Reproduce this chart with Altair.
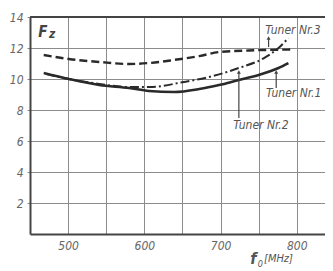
import altair as alt
import pandas as pd

# ---- data ----
tuner1_f = [468, 501, 541, 580, 606, 639, 672, 698, 724, 750, 776, 789]
tuner1_v = [10.39, 10.0, 9.61, 9.42, 9.23, 9.16, 9.35, 9.61, 9.94, 10.26, 10.71, 11.03]

tuner2_f = [471, 501, 541, 580, 606, 652, 685, 724, 757, 776, 789]
tuner2_v = [10.32, 10.0, 9.68, 9.48, 9.48, 9.81, 10.13, 10.71, 11.35, 12.0, 12.65]

tuner3_f = [468, 501, 541, 580, 606, 639, 672, 698, 737, 792]
tuner3_v = [11.55, 11.29, 11.1, 10.97, 11.03, 11.23, 11.48, 11.74, 11.84, 11.9]

x_ticks = [500, 550, 600, 650, 700, 750, 800]
y_ticks = [2, 4, 6, 8, 10, 12, 14]

label_text = ["Tuner Nr.3", "Tuner Nr.1", "Tuner Nr.2"]
label_f = [795, 796, 753]
label_v = [13.16, 9.1, 7.06]

arrow_f = [763, 773, 724]
arrow_top = [12.65, 10.45, 10.45]
arrow_bottom = [12.06, 9.42, 7.48]

FONT = "Liberation Sans Narrow, DejaVu Sans Condensed, sans-serif"
INK = "#2a2a2a"
GRID = "#8c8c8c"

x_scale = alt.Scale(domain=[450, 837], nice=False, zero=False)
y_scale = alt.Scale(domain=[0, 14], nice=False)

x_axis = alt.Axis(
    values=x_ticks, labelExpr="datum.value % 100 == 0 ? datum.label : ''",
    grid=True, gridColor=GRID, gridWidth=1, domainColor="#444444", domainWidth=2,
    tickSize=0, labelFont=FONT, labelFontSize=12, labelFontStyle="italic",
    labelColor="#666666", labelPadding=6, title=None, labelFlush=False,
    labelOverlap=False,
)
y_axis = alt.Axis(
    values=y_ticks, grid=True, gridColor=GRID, gridWidth=1, domainColor="#444444",
    domainWidth=2, tickSize=3, tickColor=GRID, labelFont=FONT, labelFontSize=12,
    labelFontStyle="italic", labelColor="#666666", labelPadding=4, title=None,
    labelFlush=False, labelOverlap=False,
)


def series(fs, vs):
    return pd.DataFrame({"f": fs, "v": vs})


def XN(field="f:Q"):
    return alt.X(field, scale=x_scale, axis=x_axis)


def YN(field="v:Q"):
    return alt.Y(field, scale=y_scale, axis=y_axis)


line1 = alt.Chart(series(tuner1_f, tuner1_v)).mark_line(
    color=INK, strokeWidth=2.6, interpolate="monotone").encode(x=XN(), y=YN())
line2 = alt.Chart(series(tuner2_f, tuner2_v)).mark_line(
    color=INK, strokeWidth=2, strokeDash=[9, 3, 2, 3], interpolate="monotone"
).encode(x=XN(), y=YN())
line3 = alt.Chart(series(tuner3_f, tuner3_v)).mark_line(
    color=INK, strokeWidth=2.4, strokeDash=[8, 4], interpolate="monotone"
).encode(x=XN(), y=YN())

top_border = alt.Chart(pd.DataFrame({"v": [14]})).mark_rule(
    color="#444444", strokeWidth=2).encode(y=YN())

arrows_df = pd.DataFrame({"f": arrow_f, "top": arrow_top, "bottom": arrow_bottom})
arrow_lines = alt.Chart(arrows_df).mark_rule(color="#444444", strokeWidth=1.2).encode(
    x=XN(), y=YN("top:Q"), y2="bottom:Q")
arrow_heads = alt.Chart(arrows_df).mark_point(
    shape="triangle-up", filled=True, color="#444444", size=16, opacity=1).encode(
    x=XN(), y=YN("top:Q"))

labels = alt.Chart(pd.DataFrame({"t": label_text, "f": label_f, "v": label_v})).mark_text(
    font=FONT, fontSize=12, fontStyle="italic", color="#555555", align="center",
    baseline="middle").encode(x=XN(), y=YN(), text="t:N")

fz_F = alt.Chart(pd.DataFrame({"t": ["F"], "f": [467], "v": [13.06]})).mark_text(
    font=FONT, fontSize=15, fontStyle="italic", fontWeight="bold", color="#444444",
    align="center", baseline="middle").encode(x=XN(), y=YN(), text="t:N")
fz_z = alt.Chart(pd.DataFrame({"t": ["z"], "f": [479], "v": [12.9]})).mark_text(
    font=FONT, fontSize=12, fontStyle="italic", fontWeight="bold", color="#444444",
    align="center", baseline="middle").encode(x=XN(), y=YN(), text="t:N")

t_f = alt.Chart(pd.DataFrame({"t": ["f"], "f": [743], "v": [-1.95]})).mark_text(
    font=FONT, fontSize=16, fontStyle="italic", fontWeight="bold", color="#555555",
    align="center", baseline="alphabetic").encode(x=XN(), y=YN(), text="t:N")
t_0 = alt.Chart(pd.DataFrame({"t": ["0"], "f": [752], "v": [-2.13]})).mark_text(
    font=FONT, fontSize=9, fontStyle="italic", color="#555555",
    align="center", baseline="alphabetic").encode(x=XN(), y=YN(), text="t:N")
t_unit = alt.Chart(pd.DataFrame({"t": ["[MHz]"], "f": [757], "v": [-1.8]})).mark_text(
    font=FONT, fontSize=11, fontStyle="italic", color="#555555",
    align="left", baseline="alphabetic").encode(x=XN(), y=YN(), text="t:N")

chart = alt.layer(
    line1, line2, line3, top_border, arrow_lines, arrow_heads, labels,
    fz_F, fz_z, t_f, t_0, t_unit,
).properties(
    width=295, height=217,
    autosize=alt.AutoSizeParams(type="none"),
    padding={"left": 22, "top": 9, "right": 0, "bottom": 37},
    background="white",
).configure_view(stroke=None)

chart.save("out.html", embed_options={"renderer": "svg", "actions": False})
